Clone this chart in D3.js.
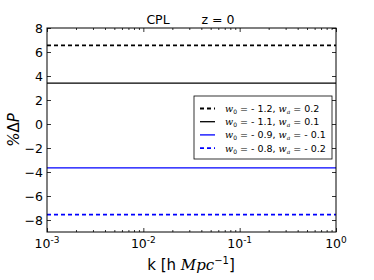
<!DOCTYPE html>
<html lang="en">
<head>
<script src="https://d3js.org/d3.v7.min.js"></script>
<style>
  body { margin: 0; background: #fff; }
  text { font-family: "DejaVu Sans", sans-serif; }
</style>
</head>
<body>
<script>
// data
const kRange = [1e-3, 1e0];
const seriesLabels = [
  ["- 1.2", "0.2"],
  ["- 1.1", "0.1"],
  ["- 0.9", "- 0.1"],
  ["- 0.8", "- 0.2"]
];
const seriesValues = [6.55, 3.4, -3.65, -7.55];
const seriesColors = ["black", "black", "blue", "blue"];
const seriesDashed = [true, false, false, true];
const yTicks = [-8, -6, -4, -2, 0, 2, 4, 6, 8];
const xTickExps = [-3, -2, -1, 0];

const width = 374, height = 280;
const margin = {left: 47, right: 38, top: 28, bottom: 48};
const svg = d3.select("body").append("svg")
  .attr("width", width).attr("height", height);

const x = d3.scaleLog().domain(kRange).range([margin.left, width - margin.right]);
const y = d3.scaleLinear().domain([-9, 8]).range([height - margin.bottom, margin.top]);

// lines
const line = d3.line().x(d => x(d[0])).y(d => y(d[1]));
seriesValues.forEach((v, i) => {
  svg.append("path")
    .datum([[kRange[0], v], [kRange[1], v]])
    .attr("d", line)
    .attr("fill", "none")
    .attr("stroke", seriesColors[i])
    .attr("stroke-width", seriesDashed[i] ? 1.8 : 1.3)
    .attr("stroke-dasharray", seriesDashed[i] ? "4,3" : null);
});

// ticks inside, all sides
const minor = [];
for (let e = -3; e < 0; e++) for (let m = 2; m < 10; m++) minor.push(m * Math.pow(10, e));

const axB = svg.append("g").attr("transform", `translate(0,${y(-9)})`)
  .call(d3.axisBottom(x).tickValues(xTickExps.map(e => Math.pow(10, e))).tickSize(-4).tickFormat(""));
const axBm = svg.append("g").attr("transform", `translate(0,${y(-9)})`)
  .call(d3.axisBottom(x).tickValues(minor).tickSize(-2).tickFormat(""));
const axT = svg.append("g").attr("transform", `translate(0,${y(8)})`)
  .call(d3.axisTop(x).tickValues(xTickExps.map(e => Math.pow(10, e))).tickSize(-4).tickFormat(""));
const axTm = svg.append("g").attr("transform", `translate(0,${y(8)})`)
  .call(d3.axisTop(x).tickValues(minor).tickSize(-2).tickFormat(""));
const axL = svg.append("g").attr("transform", `translate(${x(kRange[0])},0)`)
  .call(d3.axisLeft(y).tickValues(yTicks).tickSize(-4).tickFormat(""));
const axR = svg.append("g").attr("transform", `translate(${x(kRange[1])},0)`)
  .call(d3.axisRight(y).tickValues(yTicks).tickSize(-4).tickFormat(""));
[axB, axBm, axT, axTm, axL, axR].forEach(g => {
  g.select(".domain").remove();
  g.selectAll("line").attr("stroke", "black").attr("stroke-width", 0.8);
});

// frame
svg.append("rect")
  .attr("x", x(kRange[0])).attr("y", y(8))
  .attr("width", x(kRange[1]) - x(kRange[0])).attr("height", y(-9) - y(8))
  .attr("fill", "none").attr("stroke", "black").attr("stroke-width", 1);

// y tick labels
svg.append("g").selectAll("text").data(yTicks).join("text")
  .attr("x", x(kRange[0]) - 4).attr("y", d => y(d) + 4.5)
  .attr("text-anchor", "end").attr("font-size", 12.5)
  .text(d => d < 0 ? "\u2212" + Math.abs(d) : d);

// x tick labels
const xl = svg.append("g").selectAll("text").data(xTickExps).join("text")
  .attr("x", d => x(Math.pow(10, d)))
  .attr("y", y(-9) + 16)
  .attr("text-anchor", "middle").attr("font-size", 12.5);
xl.append("tspan").text("10");
xl.append("tspan").attr("dy", -5).attr("font-size", 9).text(d => d === 0 ? "0" : "-" + Math.abs(d));

// title
svg.append("text").attr("x", 158).attr("y", 24).attr("text-anchor", "middle")
  .attr("font-size", 12.5).text("CPL");
svg.append("text").attr("x", 218).attr("y", 24).attr("text-anchor", "middle")
  .attr("font-size", 12.5).text("z = 0");

// axis labels
const xlab = svg.append("text").attr("x", 191).attr("y", 270).attr("text-anchor", "middle")
  .attr("font-size", 15);
xlab.append("tspan").text("k [h ");
xlab.append("tspan").attr("font-family", "DejaVu Serif").attr("font-style", "italic").text("Mpc");
xlab.append("tspan").attr("dy", -6).attr("font-size", 10).text("\u22121");
xlab.append("tspan").attr("dy", 6).text("]");

const ylab = svg.append("text")
  .attr("transform", `translate(19,${(y(8) + y(-9)) / 2}) rotate(-90)`)
  .attr("text-anchor", "middle").attr("font-size", 15)
  .attr("font-family", "DejaVu Serif").attr("font-style", "italic");
ylab.append("tspan").text("%");
ylab.append("tspan").attr("font-style", "normal").text("\u0394");
ylab.append("tspan").text("P");

// legend
const lg = svg.append("g");
lg.append("rect").attr("x", 194).attr("y", 96).attr("width", 138).attr("height", 63)
  .attr("fill", "white").attr("stroke", "black").attr("stroke-width", 0.8);
seriesValues.forEach((v, i) => {
  const ry = 108.5 + i * 13.2;
  lg.append("line").attr("x1", 200).attr("x2", 215).attr("y1", ry).attr("y2", ry)
    .attr("stroke", seriesColors[i])
    .attr("stroke-width", seriesDashed[i] ? 1.8 : 1.3)
    .attr("stroke-dasharray", seriesDashed[i] ? "4,3" : null);
  const t = lg.append("text").attr("x", 225).attr("y", ry + 3.5).attr("font-size", 9.5);
  t.append("tspan").attr("font-family", "DejaVu Serif").attr("font-style", "italic").text("w");
  t.append("tspan").attr("dy", 2).attr("font-size", 6).text("0");
  t.append("tspan").attr("dy", -2).text(" = " + seriesLabels[i][0] + ", ");
  t.append("tspan").attr("font-family", "DejaVu Serif").attr("font-style", "italic").text("w");
  t.append("tspan").attr("dy", 2).attr("font-size", 6).attr("font-family", "DejaVu Serif").attr("font-style", "italic").text("a");
  t.append("tspan").attr("dy", -2).text(" = " + seriesLabels[i][1]);
});
</script>
</body>
</html>
